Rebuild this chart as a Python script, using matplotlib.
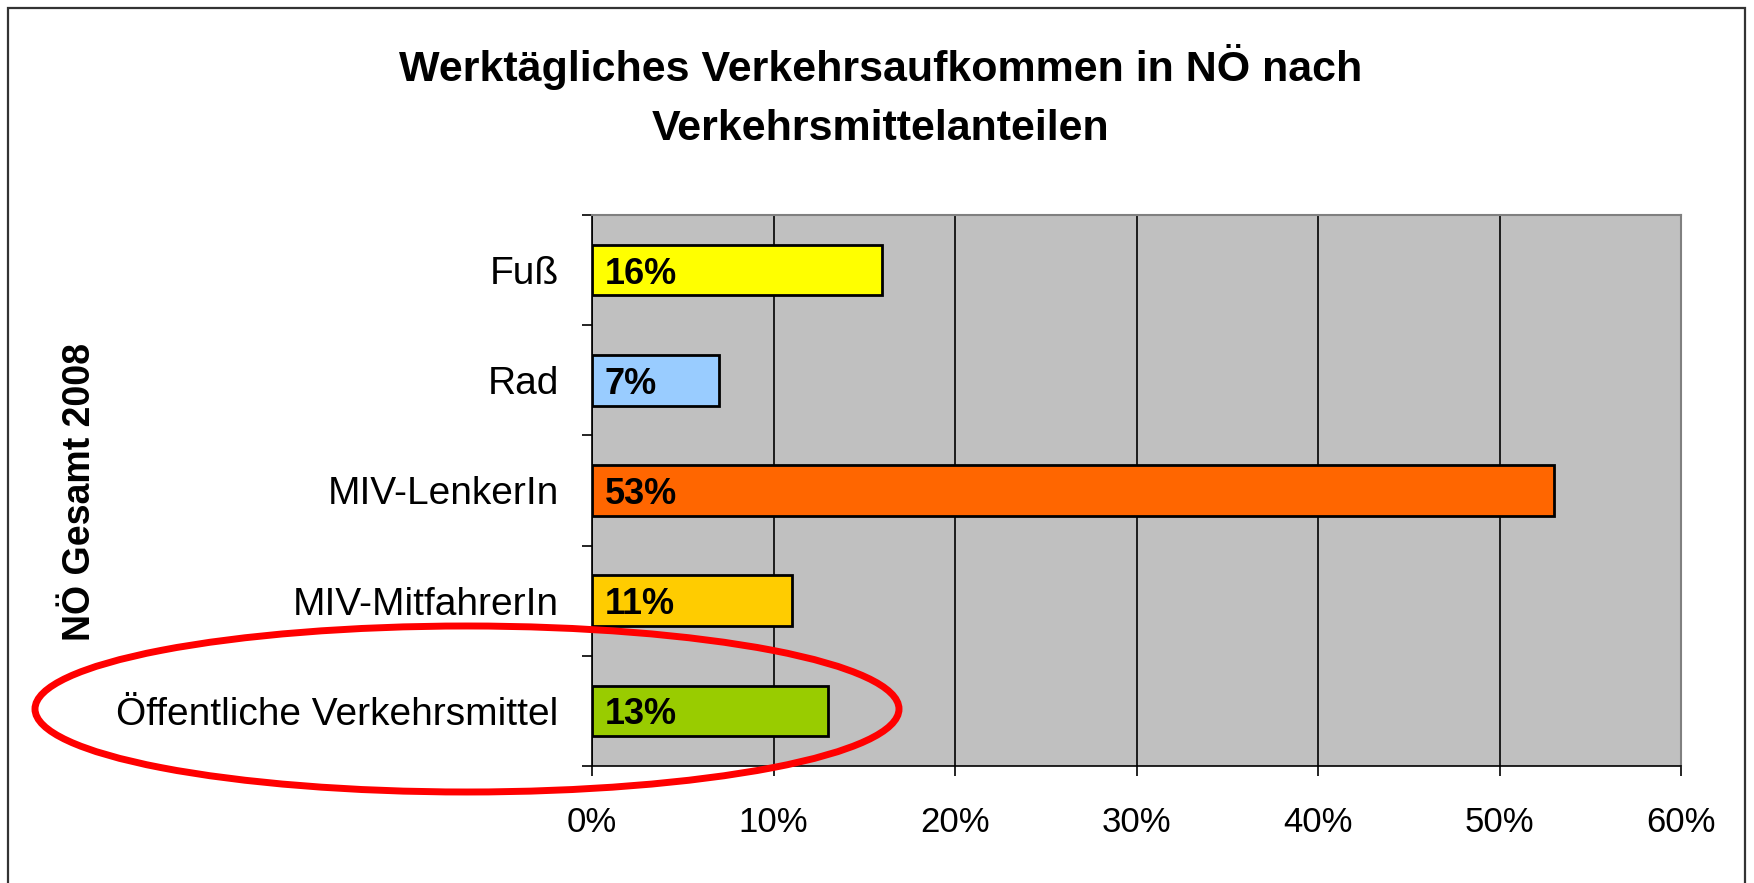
import numpy as np
import matplotlib.pyplot as plt
from matplotlib.patches import Ellipse, Rectangle

plt.rcParams['font.family'] = ['Liberation Sans', 'DejaVu Sans']

# data
categories = ['Fuß', 'Rad', 'MIV-LenkerIn', 'MIV-MitfahrerIn', 'Öffentliche Verkehrsmittel']
shares = [16, 7, 53, 11, 13]
bar_colors = ['#FFFF00', '#99CCFF', '#FF6600', '#FFCC00', '#99CC00']
x_ticks = [0, 10, 20, 30, 40, 50, 60]

fig = plt.figure(figsize=(17.54, 8.83), dpi=100)
W, H = 1754, 883

# outer frame of the chart (bottom edge runs off the picture)
fig.patches.append(Rectangle((8 / W, -0.05), (1745 - 8) / W, 1.05 - 8 / H,
                             transform=fig.transFigure, fill=False,
                             edgecolor='#333333', linewidth=1.6))

ax = fig.add_axes([592 / W, 1 - 766 / H, (1681 - 592) / W, (766 - 215) / H])
ax.set_facecolor('#C0C0C0')

y = np.arange(len(categories))
ax.barh(y, shares, height=0.46, color=bar_colors, edgecolor='black',
        linewidth=2, zorder=3)

# value labels inside the bars
for yi, v in zip(y, shares):
    ax.text(0.7, yi, f'{v}%', va='center_baseline', ha='left', fontsize=26,
            fontweight='bold', zorder=4)

ax.set_xlim(0, 60)
ax.set_ylim(len(categories) - 0.5, -0.5)
ax.set_xticks(x_ticks)
ax.set_xticklabels([f'{t}%' for t in x_ticks], fontsize=25)
ax.xaxis.grid(True, color='black', linewidth=1.2, zorder=1)
ax.set_axisbelow(True)

ax.set_yticks(y)
ax.set_yticklabels(categories, fontsize=28)
ax.set_yticks(np.arange(-0.5, len(categories)), minor=True)
ax.tick_params(axis='y', which='major', length=0, pad=24)
ax.tick_params(axis='y', which='minor', length=7.5, width=1.2)
ax.tick_params(axis='x', length=7.5, width=1.2, pad=21)

for s in ['top', 'right']:
    ax.spines[s].set_color('#808080')
    ax.spines[s].set_linewidth(1.5)
for s in ['left', 'bottom']:
    ax.spines[s].set_color('black')
    ax.spines[s].set_linewidth(1.2)

fig.text(80 / W, 1 - 492 / H, 'NÖ Gesamt 2008', rotation=90,
         ha='center', va='center', fontsize=27, fontweight='bold')

fig.text(881 / W, 1 - 67 / H, 'Werktägliches Verkehrsaufkommen in NÖ nach',
         ha='center', va='center', fontsize=31, fontweight='bold')
fig.text(881 / W, 1 - 129 / H, 'Verkehrsmittelanteilen',
         ha='center', va='center', fontsize=31, fontweight='bold')

# red highlight ellipse around the public transport row
fig.patches.append(Ellipse((467 / W, 1 - 709 / H), 864 / W, 166 / H,
                           transform=fig.transFigure, fill=False,
                           edgecolor='#FF0000', linewidth=5))

fig.savefig('out.png', dpi=100)
